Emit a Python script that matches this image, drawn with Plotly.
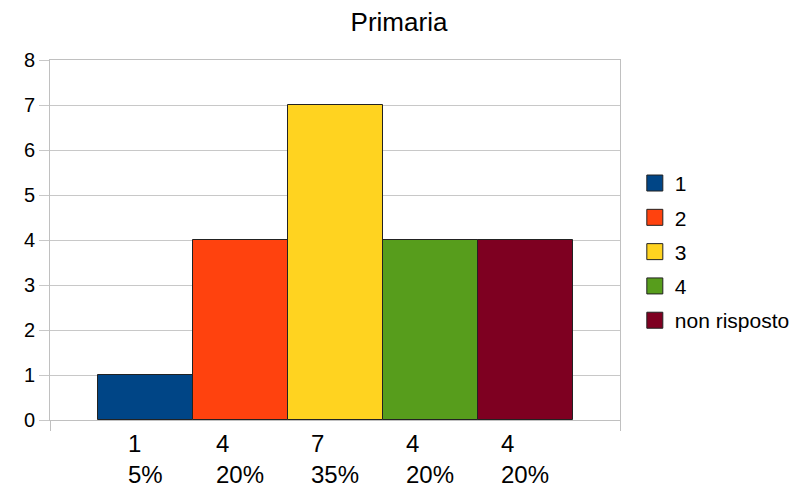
import plotly.graph_objects as go

title = "Primaria"
series_names = ["1", "2", "3", "4", "non risposto"]
counts = [1, 4, 7, 4, 4]
percent_labels = ["5%", "20%", "35%", "20%", "20%"]
colors = ["#004586", "#ff420e", "#ffd320", "#579d1c", "#7e0021"]

FONT = "Liberation Sans, Arial, sans-serif"

fig = go.Figure()
positions = list(range(len(series_names)))

for i, (name, val, col) in enumerate(zip(series_names, counts, colors)):
    fig.add_trace(go.Bar(
        x=[positions[i]], y=[val], width=1, name=name,
        marker=dict(color=col, line=dict(color="#222222", width=1)),
        showlegend=False, hoverinfo="y",
    ))
    fig.add_trace(go.Scatter(
        x=[None], y=[None], mode="markers", name=name,
        legendgroup=name,
        marker=dict(symbol="square", size=16, color=col,
                    line=dict(color="#222222", width=1)),
        showlegend=True,
    ))

for i, (val, pct) in enumerate(zip(counts, percent_labels)):
    fig.add_annotation(
        x=positions[i], y=0, xref="x", yref="paper",
        text=f"{val}<br>{pct}", showarrow=False, align="left",
        xanchor="center", yanchor="top", yshift=-8,
        font=dict(family=FONT, size=24, color="#000000"),
    )

fig.update_layout(
    width=798, height=489,
    margin=dict(l=50, r=178, t=60, b=69, autoexpand=False),
    paper_bgcolor="white", plot_bgcolor="white",
    title=dict(text=title, x=0.5, xref="container", xanchor="center",
               y=0.955, yanchor="middle",
               font=dict(family=FONT, size=26, color="#000000")),
    bargap=0,
    legend=dict(x=1.026, xanchor="left", y=0.467, yanchor="middle",
                font=dict(family=FONT, size=21, color="#000000"),
                tracegroupgap=4, traceorder="grouped"),
    font=dict(family=FONT, color="#000000"),
)

fig.update_xaxes(
    range=[-1, 5], showgrid=False, zeroline=False,
    showline=True, linecolor="#c0c0c0", linewidth=1, mirror=True,
    tickmode="array", tickvals=[-1, 5], ticktext=["", ""],
    ticks="outside", ticklen=10, tickcolor="#c0c0c0", tickwidth=1,
    fixedrange=True,
)
fig.update_yaxes(
    range=[0, 8], dtick=1, showgrid=True, gridcolor="#c8c8c8", gridwidth=1,
    zeroline=False, showline=True, linecolor="#c0c0c0", linewidth=1, mirror=True,
    ticks="outside", ticklen=10, tickcolor="#c8c8c8", tickwidth=1,
    tickfont=dict(family=FONT, size=20, color="#000000"),
    fixedrange=True,
)

fig.write_html("out.html", config={"displayModeBar": False},
               post_script="document.body.style.margin='0';document.body.style.overflow='hidden';")
